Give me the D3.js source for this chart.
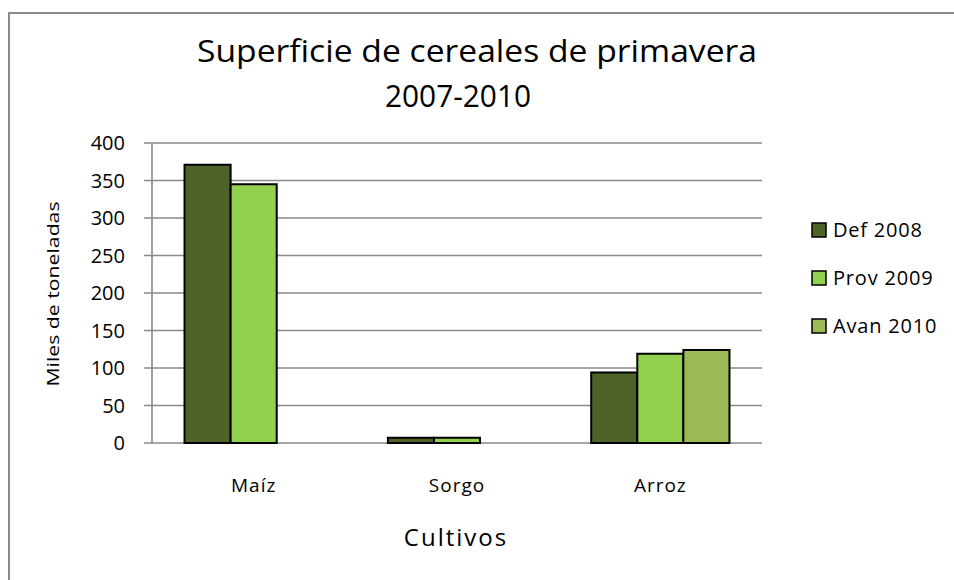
<!DOCTYPE html>
<html>
<head>
<meta charset="utf-8">
<script src="https://cdn.jsdelivr.net/npm/d3@7"></script>
<style>
  body { margin: 0; background: #fff; }
  svg text { font-family: "Open Sans", "DejaVu Sans", sans-serif; fill: #000; }
  svg text.title { font-family: "Liberation Sans Narrow", "Open Sans", sans-serif; }
</style>
</head>
<body>
<svg id="chart" width="954" height="580"></svg>
<script>
// DATA
const cultivos = ["Maíz", "Sorgo", "Arroz"];
const series = ["Def 2008", "Prov 2009", "Avan 2010"];
const def2008 = [371, 7, 94];
const prov2009 = [345, 7, 119];
const avan2010 = [null, null, 124];
const yTicks = [0, 50, 100, 150, 200, 250, 300, 350, 400];
const colors = ["#4F6228", "#92D050", "#9BBB59"];

const values = [def2008, prov2009, avan2010];

// RENDER
const svg = d3.select("#chart");
const plot = { left: 152, right: 762, top: 143, bottom: 443 };

// outer frame
svg.append("rect")
  .attr("x", 9).attr("y", 13)
  .attr("width", 960).attr("height", 600)
  .attr("fill", "#fff")
  .attr("stroke", "#8a8a8a")
  .attr("stroke-width", 2);

const x = d3.scaleBand().domain(cultivos).range([plot.left, plot.right]);
const y = d3.scaleLinear().domain([0, 400]).range([plot.bottom, plot.top]);
const inner = 0.16;
const xSub = d3.scaleBand().domain(series)
  .range([x.bandwidth() * inner, x.bandwidth() * (1 - inner)]);

// gridlines
svg.append("g")
  .selectAll("line")
  .data(yTicks)
  .join("line")
  .attr("x1", plot.left - 8)
  .attr("x2", plot.right)
  .attr("y1", d => y(d))
  .attr("y2", d => y(d))
  .attr("stroke", "#898989")
  .attr("stroke-width", 1.6);

// y axis line
svg.append("line")
  .attr("x1", plot.left).attr("x2", plot.left)
  .attr("y1", plot.top).attr("y2", plot.bottom)
  .attr("stroke", "#898989").attr("stroke-width", 1.6);

// y tick labels
svg.append("g")
  .selectAll("text")
  .data(yTicks)
  .join("text")
  .attr("x", 125)
  .attr("y", d => y(d))
  .attr("dy", "0.36em")
  .attr("text-anchor", "end")
  .attr("font-size", 20)
  .text(d => d);

// bars
const flat = [];
cultivos.forEach((c, i) => {
  series.forEach((s, j) => {
    if (values[j][i] != null) flat.push({ c, s, j, v: values[j][i] });
  });
});

svg.append("g")
  .selectAll("rect")
  .data(flat)
  .join("rect")
  .attr("x", d => x(d.c) + xSub(d.s))
  .attr("y", d => y(d.v))
  .attr("width", xSub.bandwidth())
  .attr("height", d => y(0) - y(d.v))
  .attr("fill", d => colors[d.j])
  .attr("stroke", "#000")
  .attr("stroke-width", 2);

// x labels
svg.append("g")
  .selectAll("text")
  .data(cultivos)
  .join("text")
  .attr("x", d => x(d) + x.bandwidth() / 2)
  .attr("y", 492)
  .attr("text-anchor", "middle")
  .attr("font-size", 19)
  .attr("letter-spacing", 1)
  .text(d => d);

// axis titles
svg.append("text")
  .attr("x", 456).attr("y", 546)
  .attr("text-anchor", "middle")
  .attr("font-size", 24)
  .attr("letter-spacing", 2)
  .text("Cultivos");

svg.append("text")
  .attr("transform", "translate(59,294) rotate(-90)")
  .attr("text-anchor", "middle")
  .attr("font-size", 17)
  .attr("textLength", 185)
  .attr("lengthAdjust", "spacingAndGlyphs")
  .text("Miles de toneladas");

// title
const title = svg.append("text")
  .attr("class", "title")
  .attr("text-anchor", "middle")
  .attr("font-size", 31);
title.append("tspan").attr("x", 477).attr("y", 62)
  .attr("textLength", 560).attr("lengthAdjust", "spacingAndGlyphs")
  .text("Superficie de cereales de primavera");
title.append("tspan").attr("x", 458).attr("y", 107)
  .attr("textLength", 146).attr("lengthAdjust", "spacingAndGlyphs")
  .text("2007-2010");

// legend
const legend = svg.append("g")
  .selectAll("g")
  .data(series)
  .join("g")
  .attr("transform", (d, i) => `translate(812,${230 + i * 48})`);
legend.append("rect")
  .attr("x", 0).attr("y", -7)
  .attr("width", 14).attr("height", 14)
  .attr("fill", (d, i) => colors[i])
  .attr("stroke", "#000").attr("stroke-width", 1.5);
legend.append("text")
  .attr("x", 21)
  .attr("dy", "0.36em")
  .attr("font-size", 20)
  .attr("letter-spacing", 0.8)
  .text(d => d);
</script>
</body>
</html>
